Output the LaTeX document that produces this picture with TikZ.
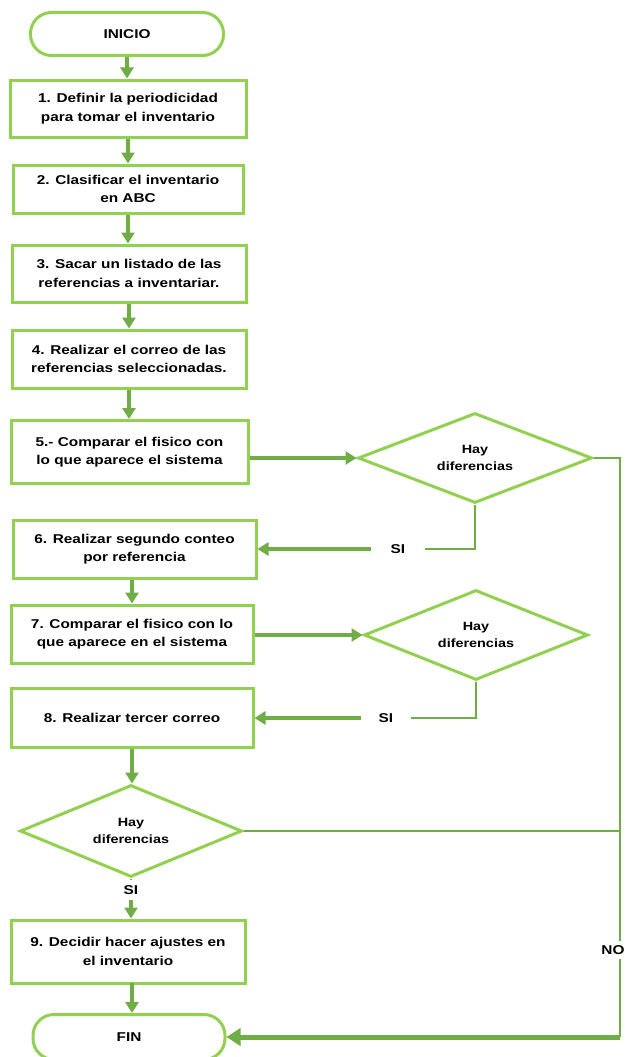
\documentclass[tikz,border=0pt]{standalone}
\usepackage{fontspec}
\setmainfont{Liberation Sans}[FakeStretch=1.2]
\usetikzlibrary{arrows.meta,shapes.geometric}
\definecolor{boxg}{HTML}{92D050}
\definecolor{arrg}{HTML}{70AD47}
\begin{document}
\begin{tikzpicture}[x=1pt,y=-1pt,
  box/.style={draw=boxg, line width=3pt, fill=white, align=center, inner sep=0pt,
    font=\bfseries\fontsize{12.8}{18.5}\selectfont},
  term/.style={box, rounded corners=21pt},
  dec/.style={draw=boxg, line width=3pt, fill=white, diamond, aspect=2.5, align=center, inner sep=0pt,
    font=\bfseries\fontsize{12}{16.5}\selectfont},
  lbl/.style={inner sep=0pt, font=\bfseries\fontsize{12.8}{15}\selectfont},
  flow/.style={draw=arrg, line width=3.3pt, -{Triangle[width=13pt,length=11pt]}},
  line/.style={draw=arrg, line width=2.8pt},
  bigflow/.style={draw=arrg, line width=5pt, -{Triangle[width=17pt,length=14pt]}}
]
\useasboundingbox (0,0) rectangle (626,1057);

\node[term, minimum width=193pt, minimum height=43pt] (inicio) at (127,34) {INICIO};
\node[box, minimum width=236pt, minimum height=57pt] (b1) at (128,108.5) {1. Definir la periodicidad\\para tomar el inventario};
\node[box, minimum width=230pt, minimum height=48pt] (b2) at (128,189) {2. Clasificar el inventario\\en ABC};
\node[box, minimum width=234pt, minimum height=57pt] (b3) at (129,273.5) {3. Sacar un listado de las\\referencias a inventariar.};
\node[box, minimum width=234pt, minimum height=58pt] (b4) at (129,359) {4. Realizar el correo de las\\referencias seleccionadas.};
\node[box, minimum width=237pt, minimum height=63pt] (b5) at (129.5,452) {5.- Comparar el fisico con\\lo que aparece el sistema};
\node[dec, minimum width=234pt, minimum height=90pt] (d1) at (475,458) {Hay\\diferencias};
\node[box, minimum width=243pt, minimum height=58pt] (b6) at (134.5,549) {6. Realizar segundo conteo\\por referencia};
\node[box, minimum width=242pt, minimum height=58pt] (b7) at (132,634) {7. Comparar el fisico con lo\\que aparece en el sistema};
\node[dec, minimum width=224pt, minimum height=90pt] (d2) at (476,635) {Hay\\diferencias};
\node[box, minimum width=242pt, minimum height=59pt] (b8) at (132,717.5) {8. Realizar tercer correo};
\node[dec, minimum width=222pt, minimum height=92pt] (d3) at (131,831) {Hay\\diferencias};
\node[box, minimum width=234pt, minimum height=63pt] (b9) at (128,951.5) {9. Decidir hacer ajustes en\\el inventario};
\node[term, minimum width=192pt, minimum height=45pt] (fin) at (129,1037) {FIN};

\node[lbl, inner xsep=20pt] (si1) at (398,549) {SI};
\node[lbl, inner xsep=18pt] (si2) at (386,718) {SI};
\node[lbl, inner ysep=5pt] (si3) at (131,890) {SI};
\node[lbl, inner ysep=4pt] (no) at (613,950) {NO};
\coordinate (nr) at (620,458);
\coordinate (c9) at (132,983);

\draw[flow] (inicio.south) -- (inicio.south |- b1.north);
\draw[flow] (b1.south) -- (b1.south |- b2.north);
\draw[flow] (b2.south) -- (b2.south |- b3.north);
\draw[flow] (b3.south) -- (b3.south |- b4.north);
\draw[flow] (b4.south) -- (b4.south |- b5.north);
\draw[flow] (b5.east |- d1.west) -- (d1.west);
\draw[line] (d1.south) |- (si1.east);
\draw[flow] (si1.west) -- (b6.east);
\draw[flow] (b6.south -| b7.north) -- (b7.north);
\draw[flow] (b7.east |- d2.west) -- (d2.west);
\draw[line] (d2.south) |- (si2.east);
\draw[flow] (si2.west) -- (b8.east |- si2.west);
\draw[flow] (b8.south) -- (b8.south |- d3.north);
\draw[line] (d3.south) -- (si3.north);
\draw[flow] (si3.south) -- (si3.south |- b9.north);
\draw[flow] (c9) -- (c9 |- fin.north);
\draw[line] (d1.east) -- (nr) -- (nr |- no.north);
\draw[line, line width=2.2pt] (d3.east) -- (nr |- d3.east);
\draw[line] (nr |- no.south) -- (nr |- fin.east);
\draw[bigflow] (nr |- fin.east) -- (fin.east);
\end{tikzpicture}
\end{document}
